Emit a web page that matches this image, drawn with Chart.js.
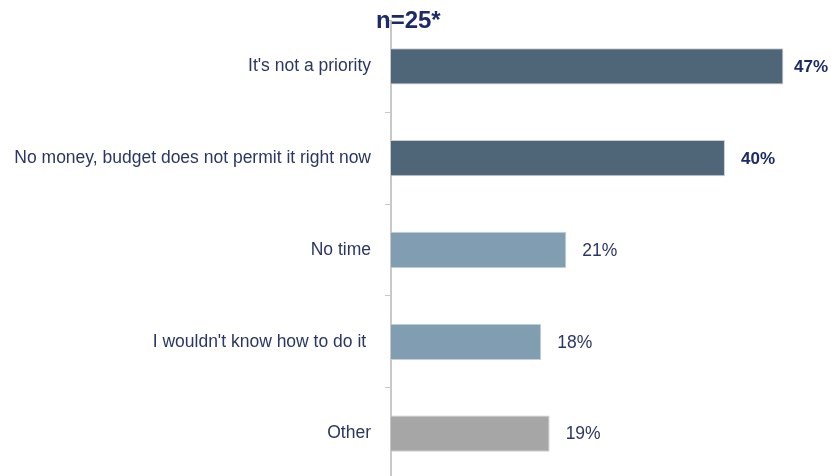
<!DOCTYPE html>
<html>
<head>
<meta charset="utf-8">
<script src="https://cdn.jsdelivr.net/npm/chart.js@4"></script>
<style>
  html, body { margin: 0; padding: 0; background: #fff; overflow: hidden; }
  canvas { display: block; margin-top: -4px; }
</style>
</head>
<body>
<canvas id="reasonChart" width="831" height="508"></canvas>
<script>
// Chart data
const categories = [
    "It's not a priority",
    'No money, budget does not permit it right now',
    'No time',
    "I wouldn't know how to do it ",
    'Other'
];
const values = [47, 40, 21, 18, 19];
const barColors = ['#4f6679', '#4f6679', '#809db1', '#809db1', '#a6a6a6'];
const boldLabel = [true, true, false, false, false];
const sampleNote = 'n=25*';

const navy = '#1c2b66';
const labelColor = '#2b3763';

// draws the percent next to each bar and the n= note above the axis
const valueLabels = {
    id: 'valueLabels',
    afterDatasetsDraw(chart) {
        const ctx = chart.ctx;
        const meta = chart.getDatasetMeta(0);
        ctx.save();
        ctx.textBaseline = 'middle';
        ctx.textAlign = 'left';
        meta.data.forEach((bar, i) => {
            ctx.font = (boldLabel[i] ? 'bold 17px ' : '17.5px ') + '"Liberation Sans", Arial, sans-serif';
            ctx.fillStyle = boldLabel[i] ? navy : labelColor;
            const txt = values[i] + '%';
            // keep the text inside the canvas like the original does
            const x = Math.min(bar.x + 16, chart.width - ctx.measureText(txt).width - 3);
            ctx.fillText(txt, x, bar.y + 1);
        });
        ctx.font = 'bold 24px "Liberation Sans", Arial, sans-serif';
        ctx.fillStyle = navy;
        ctx.fillText(sampleNote, chart.scales.y.right - 15, 25);
        ctx.restore();
    }
};

const ctx = document.getElementById('reasonChart').getContext('2d');
const reasonChart = new Chart(ctx, {
    type: 'bar',
    data: {
        labels: categories,
        datasets: [{
            data: values,
            backgroundColor: barColors,
            borderColor: '#c9cfd4',
            borderWidth: { top: 1, bottom: 1, right: 1, left: 0 },
            borderSkipped: 'left',
            barPercentage: 0.395,
            categoryPercentage: 1
        }]
    },
    options: {
        indexAxis: 'y',
        responsive: false,
        animation: false,
        events: [],
        layout: { padding: { top: 20, left: 0, right: 0, bottom: 0 } },
        plugins: {
            legend: { display: false },
            tooltip: { enabled: false }
        },
        scales: {
            x: {
                display: false,
                min: 0,
                max: 52.7
            },
            y: {
                afterFit(scale) { scale.width = 391; },
                border: { display: true, color: '#c8c8c8', width: 2 },
                grid: {
                    offset: true,
                    drawOnChartArea: false,
                    color: '#c8c8c8',
                    tickLength: 6
                },
                ticks: {
                    color: labelColor,
                    padding: 14,
                    font: { family: '"Liberation Sans", Arial, sans-serif', size: 17.5 }
                }
            }
        }
    },
    plugins: [valueLabels]
});
</script>
</body>
</html>
